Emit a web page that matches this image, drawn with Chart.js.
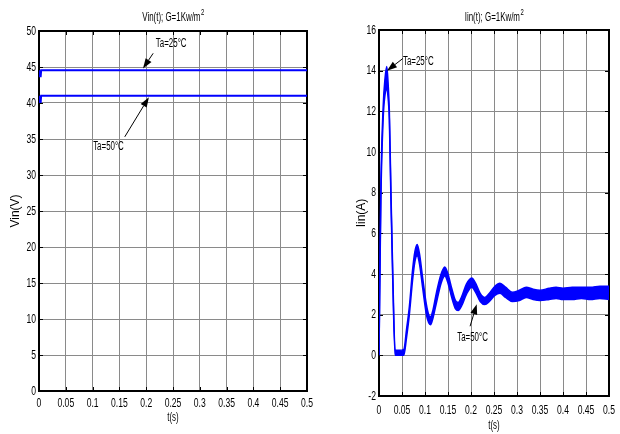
<!DOCTYPE html>
<html>
<head>
<meta charset="utf-8">
<script src="https://cdn.jsdelivr.net/npm/chart.js@4.4.1/dist/chart.umd.min.js"></script>
<style>
html, body { margin: 0; padding: 0; background: #fff; }
#wrap { position: relative; width: 620px; height: 434px; overflow: hidden; }
.box { position: absolute; top: 0; height: 434px; }
</style>
</head>
<body>
<div id="wrap">
  <div class="box" style="left:0;width:320px"><canvas id="vin_chart"></canvas></div>
  <div class="box" style="left:320px;width:300px"><canvas id="iin_chart"></canvas></div>
</div>
<script>
// axis ticks
const t_ticks = [0, 0.05, 0.1, 0.15, 0.2, 0.25, 0.3, 0.35, 0.4, 0.45, 0.5]
const t_labels = ['0', '0.05', '0.1', '0.15', '0.2', '0.25', '0.3', '0.35', '0.4', '0.45', '0.5']
const vin_ticks = [0, 5, 10, 15, 20, 25, 30, 35, 40, 45, 50]
const iin_ticks = [-2, 0, 2, 4, 6, 8, 10, 12, 14, 16]

// Vin(t), G=1Kw/m2
const vin_time = [0, 0.001, 0.002, 0.003, 0.004, 0.5]
const vin_25 = [44.55, 43.6, 44.55, 43.6, 44.55, 44.55]
const vin_50 = [41.0, 40.0, 41.0, 40.0, 41.0, 41.0]

// Iin(t), G=1Kw/m2
const iin_time = [0, 0.004, 0.009, 0.013, 0.017, 0.020, 0.0225, 0.026, 0.030, 0.035, 0.045, 0.054,
    0.060, 0.066, 0.073, 0.078, 0.083, 0.088, 0.095, 0.103, 0.108, 0.112, 0.117, 0.125, 0.135,
    0.143, 0.150, 0.158, 0.166, 0.172, 0.180, 0.190, 0.2015, 0.210, 0.220, 0.230, 0.240, 0.252,
    0.263, 0.275, 0.290, 0.305, 0.320, 0.335, 0.350, 0.370, 0.385, 0.400, 0.420, 0.440, 0.460,
    0.480, 0.500]
const iin_25 = [0, 8.2, 12.2, 13.6, 14.2, 13.3, 12.0, 8.0, 4.0, 0.25, 0.25, 0.3,
    1.3, 2.4, 4.2, 5.1, 5.45, 5.0, 3.8, 2.5, 2.0, 1.9, 2.2, 3.1, 4.0,
    4.35, 4.0, 3.3, 2.7, 2.6, 2.9, 3.5, 3.8, 3.55, 3.05, 2.85, 3.05, 3.4,
    3.55, 3.35, 3.1, 3.2, 3.35, 3.25, 3.2, 3.3, 3.35, 3.3, 3.35, 3.35, 3.35,
    3.4, 3.4]
const iin_50 = [0, 7.6, 11.6, 12.8, 13.1, 12.6, 11.6, 7.6, 3.6, 0.0, 0.0, 0.0,
    0.9, 2.0, 3.7, 4.6, 4.9, 4.5, 3.3, 2.0, 1.6, 1.5, 1.8, 2.6, 3.55,
    3.9, 3.55, 2.85, 2.3, 2.2, 2.45, 3.0, 3.35, 3.1, 2.65, 2.5, 2.65, 2.95,
    3.05, 2.85, 2.65, 2.7, 2.85, 2.75, 2.7, 2.75, 2.8, 2.75, 2.75, 2.8, 2.75,
    2.8, 2.75]

const blue = '#0000ff'
const sans = "'Liberation Sans', Arial, sans-serif"
const squeeze = 0.66   // the figure text is squashed sideways

function pts(xs, ys) {
    return xs.map((x, i) => ({ x: x, y: ys[i] }))
}

function narrow_text(ctx, text, x, y, align, baseline) {
    ctx.save()
    ctx.translate(x, y)
    ctx.scale(squeeze, 1)
    ctx.textAlign = align
    ctx.textBaseline = baseline
    ctx.fillText(text, 0, 0)
    ctx.restore()
}

function arrow(ctx, x0, y0, x1, y1) {
    const ang = Math.atan2(y1 - y0, x1 - x0)
    const len = 10, half = 3.5
    const bx = x1 - len * Math.cos(ang), by = y1 - len * Math.sin(ang)
    ctx.beginPath()
    ctx.moveTo(x0, y0)
    ctx.lineTo(bx, by)
    ctx.stroke()
    ctx.beginPath()
    ctx.moveTo(x1, y1)
    ctx.lineTo(bx + half * Math.sin(ang), by - half * Math.cos(ang))
    ctx.lineTo(bx - half * Math.sin(ang), by + half * Math.cos(ang))
    ctx.closePath()
    ctx.fill()
}

// box, inward ticks, tick labels, titles and arrows
const decor = {
    id: 'decor',
    beforeDatasetsDraw(chart) {
        const { ctx, chartArea: a, scales } = chart
        ctx.save()
        ctx.strokeStyle = '#000'
        ctx.lineWidth = 1
        scales.x.ticks.forEach(t => {
            const px = Math.round(scales.x.getPixelForValue(t.value)) + 0.5
            ctx.beginPath()
            ctx.moveTo(px, a.top); ctx.lineTo(px, a.top + 4)
            ctx.moveTo(px, a.bottom); ctx.lineTo(px, a.bottom - 4)
            ctx.stroke()
        })
        scales.y.ticks.forEach(t => {
            const py = Math.round(scales.y.getPixelForValue(t.value)) + 0.5
            ctx.beginPath()
            ctx.moveTo(a.left, py); ctx.lineTo(a.left + 4, py)
            ctx.moveTo(a.right, py); ctx.lineTo(a.right - 4, py)
            ctx.stroke()
        })
        ctx.lineWidth = 2
        ctx.strokeRect(a.left, a.top, a.width, a.height)
        ctx.restore()
    },
    afterDraw(chart, args, opts) {
        const { ctx, chartArea: a, scales } = chart
        ctx.save()
        ctx.fillStyle = '#000'
        ctx.strokeStyle = '#000'
        // tick labels
        ctx.font = '13px ' + sans
        scales.x.ticks.forEach((t, i) => {
            narrow_text(ctx, t_labels[i], scales.x.getPixelForValue(t.value), a.bottom + opts.xtickGap, 'center', 'middle')
        })
        scales.y.ticks.forEach(t => {
            narrow_text(ctx, String(t.value), a.left - 3, scales.y.getPixelForValue(t.value), 'right', 'middle')
        })
        // title with superscript
        ctx.font = '12px ' + sans
        const w1 = ctx.measureText(opts.title).width * squeeze
        ctx.font = '9px ' + sans
        const w2 = ctx.measureText('2').width * squeeze
        const cx = (a.left + a.right) / 2
        const x = cx - (w1 + w2) / 2
        ctx.font = '12px ' + sans
        narrow_text(ctx, opts.title, x, opts.titleY, 'left', 'alphabetic')
        ctx.font = '9px ' + sans
        narrow_text(ctx, '2', x + w1 + 0.5, opts.titleY - 6, 'left', 'alphabetic')
        // x label
        ctx.font = '12px ' + sans
        narrow_text(ctx, 't(s)', cx, opts.xlabelY, 'center', 'middle')
        // y label
        ctx.save()
        ctx.translate(opts.ylabelX, (a.top + a.bottom) / 2)
        ctx.rotate(-Math.PI / 2)
        ctx.font = '12px ' + sans
        ctx.textAlign = 'center'
        ctx.textBaseline = 'middle'
        ctx.fillText(opts.ylabel, 0, 0)
        ctx.restore()
        // notes
        ctx.lineWidth = 1
        ctx.font = '12px ' + sans
        opts.notes.forEach(n => {
            narrow_text(ctx, n.text, scales.x.getPixelForValue(n.tx), scales.y.getPixelForValue(n.ty), 'left', 'middle')
            arrow(ctx,
                scales.x.getPixelForValue(n.from[0]), scales.y.getPixelForValue(n.from[1]),
                scales.x.getPixelForValue(n.to[0]), scales.y.getPixelForValue(n.to[1]))
        })
        ctx.restore()
    }
}

function make_options(y_ticks, pad_top, pad_right, y_width, x_height, decor_opts) {
    return {
        responsive: true,
        maintainAspectRatio: false,
        animation: false,
        layout: { padding: { top: pad_top, right: pad_right, left: 0, bottom: 0 } },
        plugins: {
            legend: { display: false },
            tooltip: { enabled: false },
            decor: decor_opts
        },
        scales: {
            x: {
                type: 'linear',
                min: 0,
                max: 0.5,
                afterBuildTicks: s => { s.ticks = t_ticks.map(v => ({ value: v })) },
                afterFit: s => { s.height = x_height },
                grid: { color: '#8a8a8a', lineWidth: 1, drawTicks: false },
                border: { display: false },
                ticks: { display: false }
            },
            y: {
                type: 'linear',
                min: y_ticks[0],
                max: y_ticks[y_ticks.length - 1],
                afterBuildTicks: s => { s.ticks = y_ticks.map(v => ({ value: v })) },
                afterFit: s => { s.width = y_width },
                grid: { color: '#8a8a8a', lineWidth: 1, drawTicks: false },
                border: { display: false },
                ticks: { display: false }
            }
        }
    }
}

Chart.register(decor)

const vin_chart = new Chart(document.getElementById('vin_chart'), {
    type: 'line',
    data: {
        datasets: [{
                label: 'Ta=25°C',
                data: pts(vin_time, vin_25),
                borderColor: blue,
                borderWidth: 2,
                pointRadius: 0,
                fill: false,
            },
            {
                label: 'Ta=50°C',
                data: pts(vin_time, vin_50),
                borderColor: blue,
                borderWidth: 2,
                pointRadius: 0,
                fill: false,
            }
        ]
    },
    options: make_options(vin_ticks, 31, 13, 39, 43, {
        title: 'Vin(t); G=1Kw/m',
        titleY: 21,
        xtickGap: 12,
        xlabelY: 418,
        ylabel: 'Vin(V)',
        ylabelX: 16,
        notes: [
            { text: 'Ta=25°C', tx: 0.218, ty: 48.3, from: [0.213, 46.9], to: [0.194, 44.8] },
            { text: 'Ta=50°C', tx: 0.101, ty: 34.0, from: [0.160, 35.3], to: [0.205, 40.8] }
        ]
    })
})

const iin_chart = new Chart(document.getElementById('iin_chart'), {
    type: 'line',
    data: {
        datasets: [{
                label: 'Ta=25°C',
                data: pts(iin_time, iin_25),
                borderColor: blue,
                borderWidth: 1.5,
                pointRadius: 0,
                cubicInterpolationMode: 'monotone',
                fill: false,
            },
            {
                label: 'Ta=50°C',
                data: pts(iin_time, iin_50),
                borderColor: blue,
                backgroundColor: blue,
                borderWidth: 1.5,
                pointRadius: 0,
                cubicInterpolationMode: 'monotone',
                fill: '-1',
            }
        ]
    },
    options: make_options(iin_ticks, 30, 11, 59, 38, {
        title: 'Iin(t); G=1Kw/m',
        titleY: 21,
        xtickGap: 14,
        xlabelY: 426,
        ylabel: 'Iin(A)',
        ylabelX: 42,
        notes: [
            { text: 'Ta=25°C', tx: 0.052, ty: 14.43, from: [0.052, 14.6], to: [0.0174, 14.0] },
            { text: 'Ta=50°C', tx: 0.170, ty: 0.89, from: [0.198, 1.43], to: [0.2124, 2.51] }
        ]
    })
})
</script>
</body>
</html>
